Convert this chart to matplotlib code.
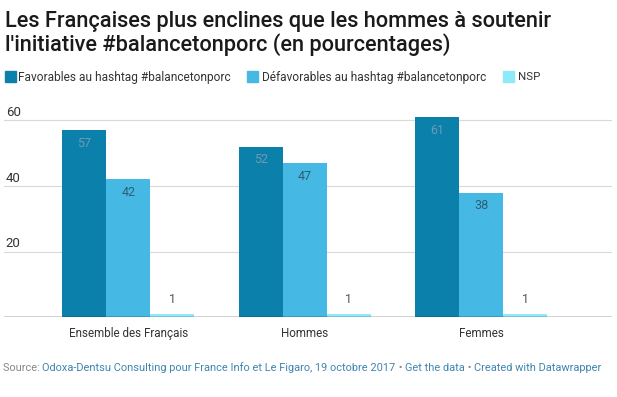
import matplotlib
matplotlib.use("Agg")
import matplotlib.pyplot as plt
from matplotlib.patches import Rectangle
import numpy as np

categories = ["Ensemble des Français", "Hommes", "Femmes"]
series_names = ["Favorables au hashtag #balancetonporc",
                "Défavorables au hashtag #balancetonporc", "NSP"]
favorables = [57, 52, 61]
defavorables = [42, 47, 38]
nsp = [1, 1, 1]
yticks = [20, 40, 60]

colors = ["#0b80ab", "#45b8e3", "#8ee9f9"]
label_colors = ["#6e9bb5", "#2f5e77", "#555555"]

plt.rcParams['font.family'] = ['Roboto', 'DejaVu Sans']

fig = plt.figure(figsize=(6.17, 3.97), dpi=100)
W, H = 617, 397
fig.canvas.draw()
R = fig.canvas.get_renderer()


def fit(t, target):
    w = t.get_window_extent(R).width
    t.set_fontsize(t.get_fontsize() * target / w)
    return t


ax_left, ax_right = 4, 612
ax_top, ax_bottom = 100, 317
ax = fig.add_axes([ax_left / W, 1 - ax_bottom / H, (ax_right - ax_left) / W, (ax_bottom - ax_top) / H])

x = np.arange(len(categories))
bw = 0.25
ymax = (ax_bottom - ax_top) / (65.5 / 20)
ax.set_ylim(0, ymax)
ax.set_xlim(-0.705, 2.742)

for i, (vals, c, lc) in enumerate(zip([favorables, defavorables, nsp], colors, label_colors)):
    offs = (i - 1) * bw
    ax.bar(x + offs, vals, width=bw, color=c, zorder=3, label=series_names[i])
    for xi, v in zip(x, vals):
        if v > 5:
            ax.text(xi + offs, v - 2.0, str(v), ha='center', va='top', fontsize=9, color=lc, zorder=4)
        else:
            ax.text(xi + offs, v + 2.3, str(v), ha='center', va='bottom', fontsize=9, color=lc, zorder=4)

for t in yticks:
    ax.axhline(t, color='#d9d9d9', lw=0.8, zorder=1)
    ax.text(0.003, t + 1.3, str(t), transform=ax.get_yaxis_transform(), ha='left', va='baseline',
            fontsize=9.5, color='#333333')
ax.axhline(0, color='#222222', lw=1.0, zorder=5)

ax.set_yticks([])
ax.set_xticks(x)
labs = ax.set_xticklabels(categories, fontsize=9, color='#333333')
ax.tick_params(axis='x', length=0, pad=7)
for s in ax.spines.values():
    s.set_visible(False)
fig.canvas.draw()
w0 = labs[0].get_window_extent(R).width
for lb in labs:
    lb.set_fontsize(9 * 121 / w0)

# Title
t1 = fig.text(5 / W, 1 - 27 / H, "Les Françaises plus enclines que les hommes à soutenir",
              ha='left', va='baseline', fontsize=16, color='#1a1a1a', fontweight='medium')
fit(t1, 550)
fig.text(5 / W, 1 - 51 / H, "l'initiative #balancetonporc (en pourcentages)",
         ha='left', va='baseline', fontsize=t1.get_fontsize(), color='#1a1a1a', fontweight='medium')

# Legend (manual)
leg_y = 1 - 77 / H
leg_items = [(5, 18, 214, series_names[0]), (247, 262, 225, series_names[1]), (503, 518, 22, series_names[2])]
for (sx, tx, tw, name), c in zip(leg_items, colors):
    fig.patches.append(Rectangle((sx / W, 1 - 82 / H), 11 / W, 11 / H, transform=fig.transFigure,
                                 color=c, figure=fig))
    lt = fig.text(tx / W, leg_y, name, ha='left', va='center', fontsize=9, color='#333333')
    fit(lt, tw)

# Footer
src_y = 1 - 368 / H
parts = [("Source: ", '#888888'),
         ("Odoxa-Dentsu Consulting pour France Info et Le Figaro, 19 octobre 2017", '#3e86b0'),
         (" • ", '#888888'), ("Get the data", '#3e86b0'), (" • ", '#888888'),
         ("Created with Datawrapper", '#3e86b0')]
full = fig.text(3 / W, src_y, "".join(p for p, _ in parts), fontsize=8, ha='left', va='center')
fit(full, 598)
fs = full.get_fontsize()
full.remove()
xpos = 3
for txt, col in parts:
    tt = fig.text(xpos / W, src_y, txt, ha='left', va='center', fontsize=fs, color=col)
    xpos = tt.get_window_extent(R).x1

fig.savefig("out.png", dpi=100, facecolor='white')
